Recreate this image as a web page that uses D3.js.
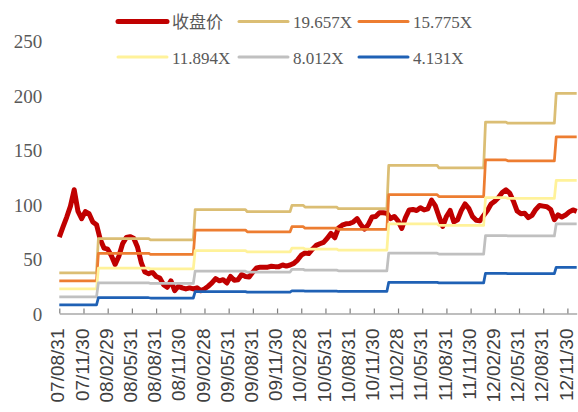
<!DOCTYPE html>
<html><head><meta charset="utf-8">
<script src="https://cdn.jsdelivr.net/npm/d3@7"></script>
<style>body{margin:0;background:#fff} svg{display:block}</style>
</head><body><svg id="c" width="578" height="412"></svg>
<script>
// ---- data ----
const tickLabels = ["07/08/31","07/11/30","08/02/29","08/05/31","08/08/31","08/11/30","09/02/28","09/05/31","09/08/31","09/11/30","10/02/28","10/05/31","10/08/31","10/11/30","11/02/28","11/05/31","11/08/31","11/11/30","12/02/29","12/05/31","12/08/31","12/11/30"];
const weeksPerTick = 13;           // category axis: one label every 13 weekly points
const lastWeek = 278;              // index of the last weekly point
const priceEveryWeeks = 2;         // close price sampled every 2 weeks
const priceValues = [70,79.5,88.5,98.5,113.5,94,87,93.5,91.5,84,81.5,68,60,59,53,45,52.5,64,69.8,70.5,
  69,61,47,38,36.5,38,34,32.5,26.5,24,30,21,25,23.5,22.5,23.5,22.5,23.5,21,22.5,
  25,28,32,30,31,28,34,30.5,31,35.7,34,33.5,38,41.8,42.5,42.5,42.5,43.3,43,43,
  44.5,43.5,44.5,46,49,53.5,55.5,55,59,62.5,64,65.3,69,73.5,69.5,78.5,81,82.3,82.5,84,
  87,81.5,77.5,81.5,88.5,89,92.5,92.5,92,87,89,85,78,88,95,95.5,94.5,97,95,96,
  104,99,89,80,89,94.5,84,86,94.5,100.5,96.5,89,85.5,85,90,94.5,100.5,103,106.5,111,
  113.5,110.5,103,94,91.5,92,88,90,95.5,99,98.5,98,95.5,86,90.5,88.5,90.3,93.2,95,93.7];
const epsWeeks  = [0,21,49,73,101,125,132,150,177,204,229,241,267];
const epsValues = [1.90,3.50,3.44,4.85,4.75,5.05,4.97,4.89,6.91,6.80,8.93,8.88,10.27];
const multiples = [19.657,15.775,11.894,8.012,4.131];
const seriesNames = ["收盘价","19.657X","15.775X","11.894X","8.012X","4.131X"];
const seriesColors = ["#C00000","#DBBE74","#ED7D31","#FFF29A","#C0C0C0","#1F61B5"];
const yTicks = [0,50,100,150,200,250];

// ---- layout ----
const svg = d3.select("#c");
const x = d3.scaleLinear().domain([0, lastWeek]).range([59.3, 576.7]);
const y = d3.scaleLinear().domain([0, 250]).range([313.5, 41]);

// y axis (labels only)
const ya = svg.append("g").attr("transform","translate(59.3,0)")
  .call(d3.axisLeft(y).tickValues(yTicks).tickSize(0).tickPadding(17));
ya.select(".domain").remove();
ya.selectAll("text").attr("font-family","'Liberation Serif', serif").attr("font-size",19)
  .attr("fill","#595959").attr("dy","0.35em");

// price line
const priceData = priceValues.map((v,i)=>({w:i*priceEveryWeeks, v}));
const line = d3.line().x(d=>x(d.w)).y(d=>y(d.v));
svg.append("path").datum(priceData).attr("d",line).attr("fill","none")
  .attr("stroke",seriesColors[0]).attr("stroke-width",5).attr("stroke-linejoin","round");

// PE band lines
const epsPts = [];
epsWeeks.forEach((w,i)=>{
  epsPts.push({w, e:epsValues[i]});
  const next = i < epsWeeks.length-1 ? epsWeeks[i+1]-1 : lastWeek;
  epsPts.push({w:next, e:epsValues[i]});
});
multiples.forEach((m,k)=>{
  svg.append("path").datum(epsPts).attr("fill","none")
    .attr("d", d3.line().x(d=>x(d.w)).y(d=>y(d.e*m)))
    .attr("stroke",seriesColors[k+1]).attr("stroke-width",2.75).attr("stroke-linejoin","round");
});

// x axis
const xa = svg.append("g").attr("transform",`translate(0,${y(0)})`)
  .call(d3.axisBottom(x).tickValues(tickLabels.map((_,i)=>i*weeksPerTick))
    .tickFormat((d,i)=>tickLabels[i]).tickSizeInner(-5).tickSizeOuter(0));
xa.select(".domain").attr("stroke","#7F7F7F").attr("stroke-width",1.2);
xa.selectAll(".tick line").attr("stroke","#7F7F7F").attr("stroke-width",1.2);
xa.selectAll(".tick text")
  .attr("font-family","'Liberation Sans', Arial, sans-serif").attr("font-size",19).attr("fill","#404040")
  .attr("text-anchor","end").attr("x",0).attr("y",0).attr("dy","0.35em")
  .attr("transform","translate(-2,15) rotate(-90)");

// legend
const legX = [118,239,359], legY = [21.5,57];
seriesNames.forEach((name,i)=>{
  const cx = legX[i%3], cy = legY[Math.floor(i/3)];
  const g = svg.append("g");
  g.append("line").attr("x1",cx).attr("x2",cx+49).attr("y1",cy).attr("y2",cy)
    .attr("stroke",seriesColors[i]).attr("stroke-width",i===0?5:3).attr("stroke-linecap","round");
  g.append("text").attr("x",cx+54).attr("y",cy+1).attr("dy","0.35em")
    .attr("font-family","'Liberation Serif', 'Noto Sans CJK SC', serif").attr("font-size",17)
    .attr("fill","#595959").text(name);
});
</script></body></html>
